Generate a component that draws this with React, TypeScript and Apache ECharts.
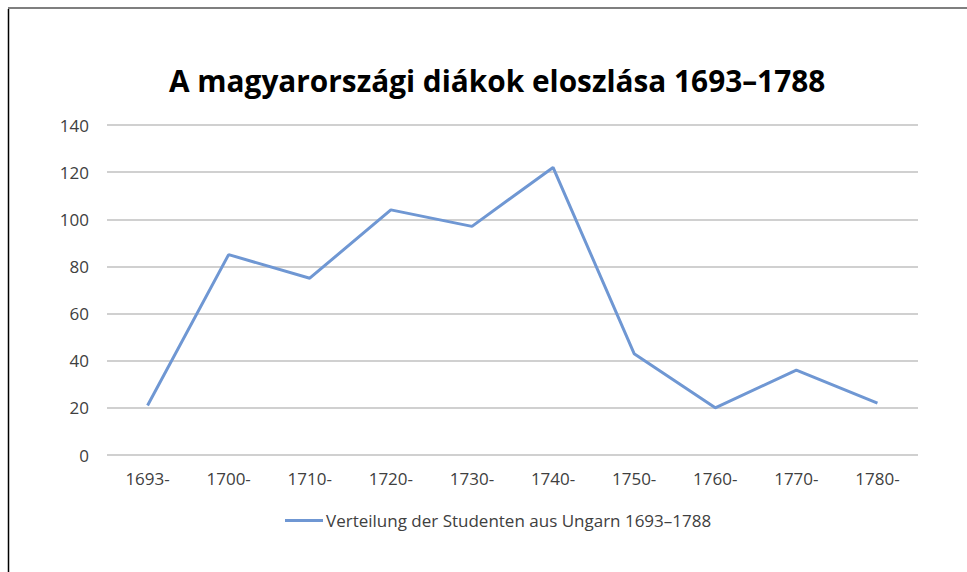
import React, { useEffect, useRef } from "react";
import * as echarts from "echarts";

const categories = ["1693-", "1700-", "1710-", "1720-", "1730-", "1740-", "1750-", "1760-", "1770-", "1780-"];
const studentCounts = [21, 85, 75, 104, 97, 122, 43, 20, 36, 22];
const seriesName = "Verteilung der Studenten aus Ungarn 1693–1788";
const titleText = "A magyarországi diákok eloszlása 1693–1788";

export default function App() {
  const ref = useRef<HTMLDivElement>(null);
  useEffect(() => {
    if (!ref.current) return;
    const chart = echarts.init(ref.current, null, { renderer: "svg" });
    chart.setOption({
      animation: false,
      backgroundColor: "#ffffff",
      title: {
        text: titleText,
        left: 164,
        top: 60,
        textStyle: { fontFamily: "Open Sans", fontWeight: "bold", fontSize: 29.8, color: "#000000" },
      },
      grid: { left: 107, right: 49, top: 125, bottom: 117 },
      xAxis: {
        type: "category",
        data: categories,
        boundaryGap: true,
        axisLine: { show: false },
        axisTick: { show: false },
        axisLabel: { color: "#404040", fontSize: 17, fontFamily: "Open Sans", margin: 15 },
      },
      yAxis: {
        type: "value",
        min: 0,
        max: 140,
        interval: 20,
        axisLine: { show: false },
        axisTick: { show: false },
        axisLabel: { color: "#404040", fontSize: 17, fontFamily: "Open Sans", margin: 18 },
        splitLine: { lineStyle: { color: "#c0c0c0", width: 1.5 } },
      },
      legend: {
        bottom: 38,
        left: 280,
        itemWidth: 38,
        itemHeight: 3,
        icon: "rect",
        itemGap: 6,
        textStyle: { color: "#404040", fontSize: 17, fontFamily: "Open Sans", padding: [0, 0, 0, -2] },
        data: [seriesName],
      },
      series: [
        {
          name: seriesName,
          type: "line",
          data: studentCounts,
          symbol: "none",
          lineStyle: { color: "#6f97d3", width: 3 },
          itemStyle: { color: "#6f97d3" },
        },
      ],
      graphic: [
        { type: "line", shape: { x1: 8, y1: 8, x2: 967, y2: 8 }, style: { stroke: "#7f7f7f", lineWidth: 2 } },
        { type: "line", shape: { x1: 8.5, y1: 9, x2: 8.5, y2: 572 }, style: { stroke: "#000000", lineWidth: 1.5 } },
      ],
    });
    return () => chart.dispose();
  }, []);
  return (
    <div style={{ position: "fixed", left: 0, top: 0, width: 967, height: 572, background: "#fff" }}>
      <div ref={ref} style={{ width: 967, height: 572 }} />
    </div>
  );
}
